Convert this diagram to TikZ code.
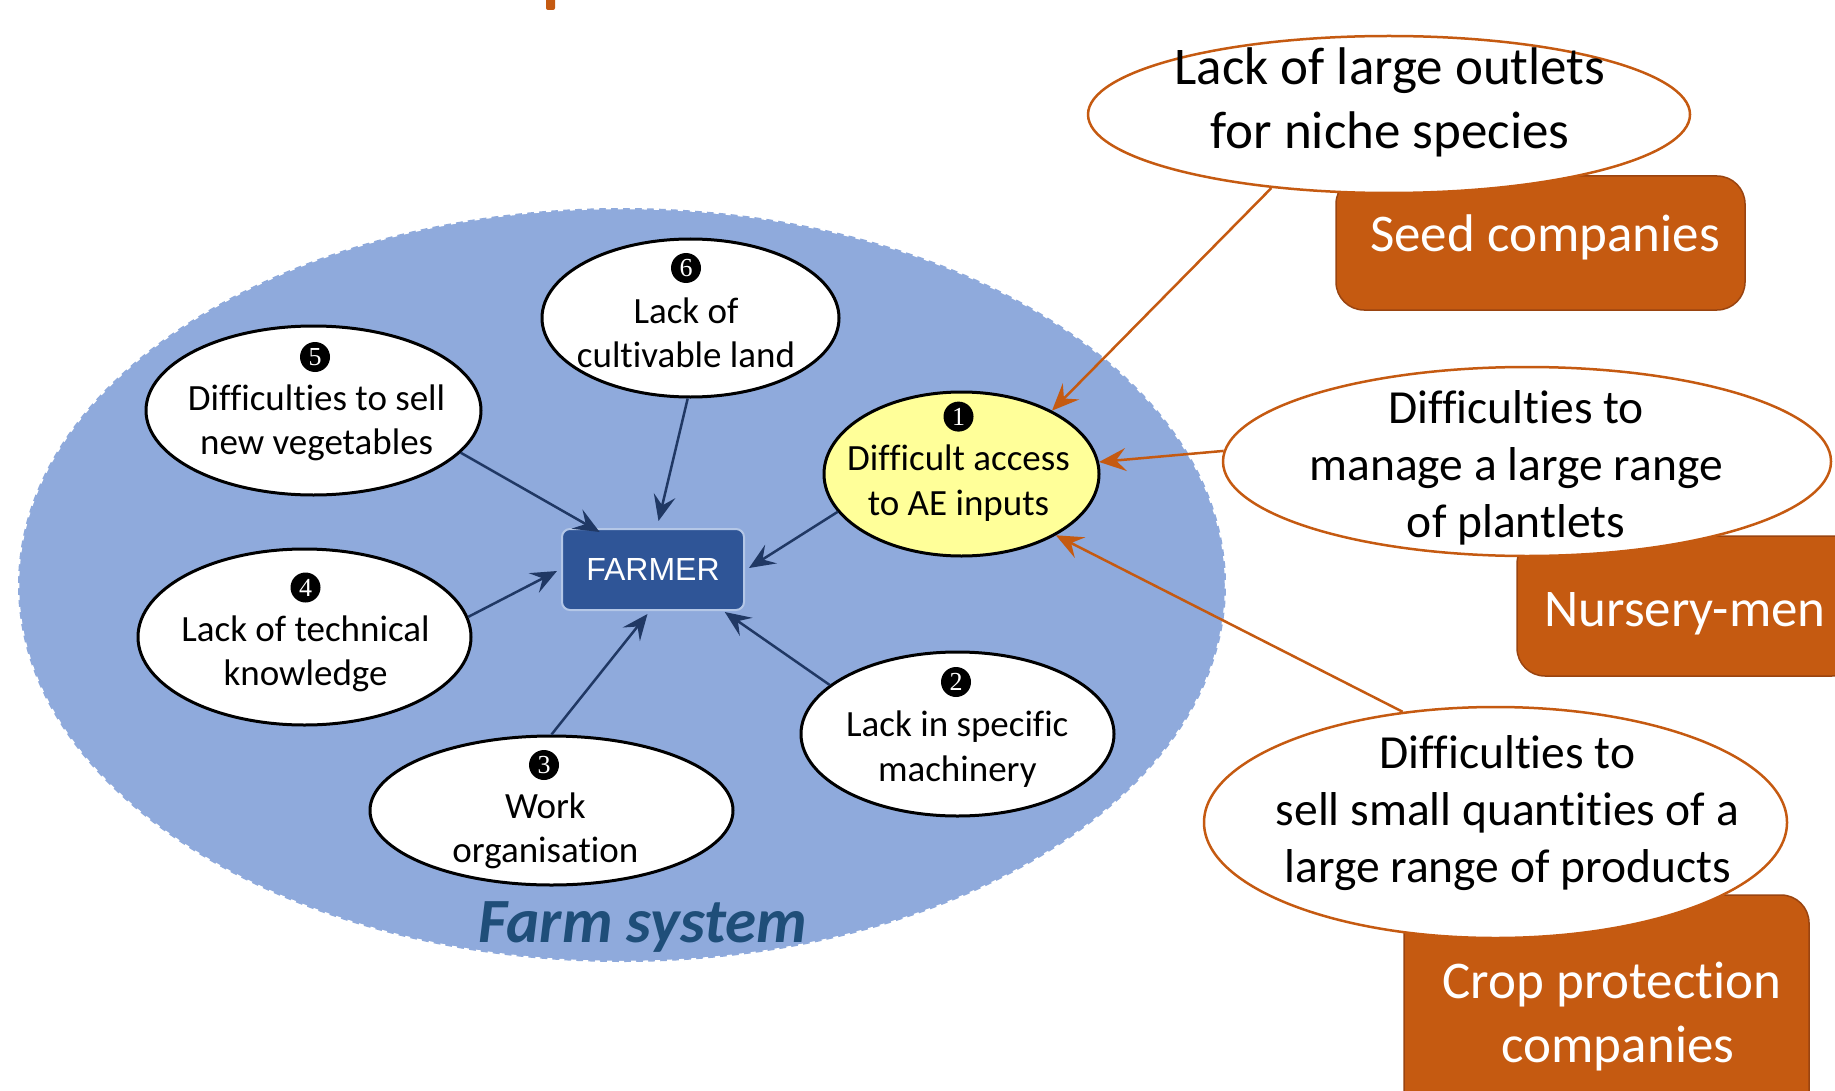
\documentclass[tikz,border=0pt]{standalone}
\usepackage{fontspec}
\setmainfont{Carlito}[Ligatures=NoCommon]
\newfontfamily\arialfont{Liberation Sans}
\newfontfamily\digitfont{Liberation Serif}
\usetikzlibrary{shapes.geometric,arrows.meta,calc}
\definecolor{farmfill}{HTML}{8FAADC}
\definecolor{farmerfill}{HTML}{2F5597}
\definecolor{farmerline}{HTML}{B4C7E7}
\definecolor{navyline}{HTML}{203864}
\definecolor{yellowfill}{HTML}{FFFF99}
\definecolor{orangeC}{HTML}{C55A11}
\definecolor{orangeD}{HTML}{9A4410}
\definecolor{farmtext}{HTML}{1F4E79}
\begin{document}
\begin{tikzpicture}[x=1pt,y=-1pt,
  farmarea/.style={ellipse, fill=farmfill, draw=white, line width=2.5pt, dash pattern=on 5pt off 7pt, inner sep=0pt},
  innerell/.style={ellipse, draw=black, line width=3pt, fill=white, inner sep=0pt},
  outerell/.style={ellipse, draw=orangeC, line width=2.5pt, fill=white, inner sep=0pt},
  innertext/.style={align=center, inner sep=0pt, font=\fontsize{37}{44.5}\selectfont},
  outertext/.style={align=center, inner sep=0pt, font=\fontsize{47.5}{57}\selectfont},
  bigtext/.style={align=center, inner sep=0pt, font=\fontsize{53}{64.4}\selectfont},
  actorbox/.style={rectangle, rounded corners=28pt, fill=orangeC, draw=orangeD, line width=1.5pt, inner sep=0pt},
  actortext/.style={align=center, inner sep=0pt, text=white, font=\fontsize{53}{64}\selectfont},
  numdot/.style={circle, fill=black, text=white, minimum size=30pt, inner sep=0pt, font=\digitfont\fontsize{26}{26}\selectfont},
  farmerbox/.style={rectangle, rounded corners=8pt, fill=farmerfill, draw=farmerline, line width=2pt, text=white, font=\arialfont\fontsize{32}{32}\selectfont, minimum width=182pt, minimum height=81pt, inner sep=0pt},
  navyarrow/.style={draw=navyline, line width=2.5pt, -{Stealth[length=26pt, width=22pt, inset=10pt]}},
  orangearrow/.style={draw=orangeC, line width=2.5pt, -{Stealth[length=27pt, width=23pt, inset=10pt]}}
]
\useasboundingbox (0,0) rectangle (1835,1091);
\clip (0,0) rectangle (1835,1091);
\fill[white] (0,0) rectangle (1835,1091);

% small orange fragment at top
\fill[orangeC, rounded corners=2pt] (546,-5) rectangle (555,10);

% farm system area
\node[farmarea, minimum width=1208pt, minimum height=754pt] (farm) at (622,585) {};
\node[inner sep=0pt, text=farmtext, font=\bfseries\itshape\fontsize{63}{63}\selectfont] (farmlabel) at (643,927) {Farm system};

% farmer
\node[farmerbox] (farmer) at (653,569.5) {FARMER};

% inner ellipses
\node[innerell, minimum width=297pt, minimum height=158pt] (e6) at (690.5,318) {};
\node[innerell, minimum width=335pt, minimum height=169pt] (e5) at (313.5,410.5) {};
\node[innerell, minimum width=333pt, minimum height=176pt] (e4) at (304.5,637) {};
\node[innerell, minimum width=363pt, minimum height=149pt] (e3) at (551.5,810.5) {};
\node[innerell, minimum width=313pt, minimum height=164pt] (e2) at (957.5,734) {};
\node[innerell, fill=yellowfill, minimum width=275pt, minimum height=164pt] (e1) at (961.5,474) {};

\node[innertext] (t6) at (686,333) {Lack of\\cultivable land};
\node[innertext] (t5) at (316.6,423) {Difficulties to sell\\new vegetables};
\node[innertext] (t4) at (305.5,654) {Lack of technical\\knowledge};
\node[innertext] (t3) at (545.4,831) {Work\\organisation};
\node[innertext] (t2) at (957.3,749) {Lack in specific\\machinery};
\node[innertext] (t1) at (958.5,483) {Difficult access\\to AE inputs};

\node[numdot] (n6) at (686,268) {6};
\node[numdot] (n5) at (315,357) {5};
\node[numdot] (n4) at (305.5,587.5) {4};
\node[numdot] (n3) at (544,765) {3};
\node[numdot] (n2) at (956,682) {2};
\node[numdot] (n1) at (958.5,416.6) {1};

% actor boxes
\node[actorbox, minimum width=409pt, minimum height=134pt] (seedbox) at (1540.5,243) {};
\node[actorbox, minimum width=343pt, minimum height=140pt] (nurserybox) at (1688.5,606) {};
\node[actorbox, minimum width=405pt, minimum height=225pt] (cropbox) at (1606.5,1007.5) {};
\node[actortext] (seedtxt) at (1545,237.5) {Seed companies};
\node[actortext] (nurserytxt) at (1685,614) {Nursery-men};
\node[actortext] (croptxt) at (1612,1016.5) {Crop protection\\\hspace*{12pt}companies};

% outer ellipses
\node[outerell, minimum width=602pt, minimum height=157pt] (eA) at (1389,114.5) {};
\node[outerell, minimum width=608pt, minimum height=189pt] (eB) at (1527,461.5) {};
\node[outerell, minimum width=583pt, minimum height=231pt] (eC) at (1495.5,822.5) {};
\node[bigtext] (tA) at (1390,102.5) {Lack of large outlets\\for niche species};
\node[outertext] (tB) at (1516,467.5) {Difficulties to\\manage a large range\\of plantlets};
\node[outertext] (tC) at (1507.5,813.5) {Difficulties to\\sell small quantities of a\\large range of products};

% navy arrows
\draw[navyarrow] (e6.-92) -- ($(farmer.north west)!0.53!(farmer.north east)+(0,-7)$);
\draw[navyarrow] (e5.-16) -- ($(farmer.north west)!0.21!(farmer.north east)+(0,4)$);
\draw[navyarrow] (e4.7) -- ($(farmer.west)+(-4,1.5)$);
\draw[navyarrow] (e3.north) -- ($(farmer.south west)!0.47!(farmer.south east)+(0,3)$);
\draw[navyarrow] (e2.159) -- ($(farmer.south west)!0.89!(farmer.south east)+(0,1)$);
\draw[navyarrow] (e1.-163) -- ($(farmer.east)+(4,-1.5)$);

% orange arrows
\draw[orangearrow] (eA.-148) -- (e1.35);
\draw[orangearrow] (eB.178) -- (e1.5);
\draw[orangearrow] (eC.130) -- (e1.-33);
\end{tikzpicture}
\end{document}
